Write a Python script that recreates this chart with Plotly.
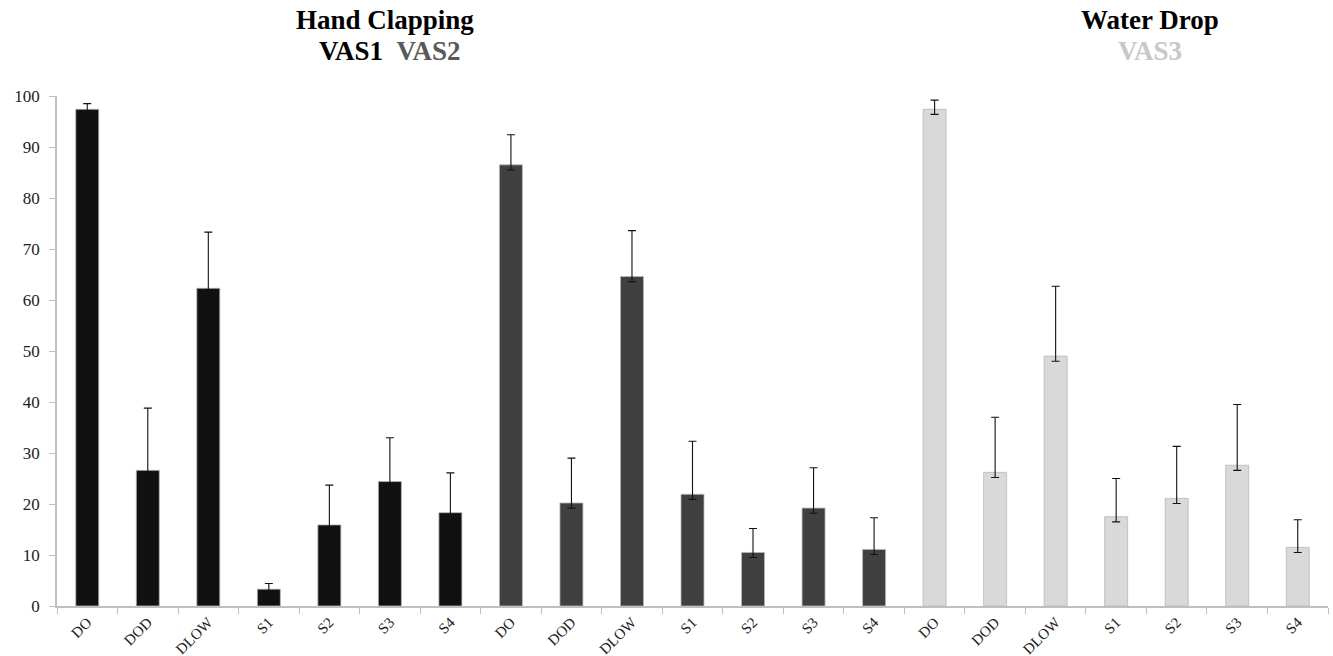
import plotly.graph_objects as go

# Conditions shown on the x axis (repeated for each VAS block)
conditions = ["DO", "DOD", "DLOW", "S1", "S2", "S3", "S4"]

# Mean scores per condition
vas1_mean = [97.4, 26.6, 62.3, 3.3, 15.9, 24.4, 18.3]
vas2_mean = [86.5, 20.2, 64.6, 21.9, 10.5, 19.2, 11.1]
vas3_mean = [97.4, 26.2, 49.0, 17.5, 21.1, 27.6, 11.5]

# Upper error (to the cap above each bar)
vas1_err_up = [1.1, 12.2, 11.0, 1.1, 7.8, 8.6, 7.8]
vas2_err_up = [5.9, 8.8, 9.0, 10.4, 4.7, 7.9, 6.2]
vas3_err_up = [1.8, 10.8, 13.7, 7.5, 10.2, 11.9, 5.4]

# Lower error (short whisker just under the bar top)
vas1_err_down = [1.0, 1.0, 1.0, 1.0, 1.0, 1.0, 1.0]
vas2_err_down = [1.0, 1.0, 1.0, 1.0, 1.0, 1.0, 1.0]
vas3_err_down = [1.0, 1.0, 1.0, 1.0, 1.0, 1.0, 1.0]

series = [
    ("VAS1", vas1_mean, vas1_err_up, vas1_err_down, "#111111"),
    ("VAS2", vas2_mean, vas2_err_up, vas2_err_down, "#404040"),
    ("VAS3", vas3_mean, vas3_err_up, vas3_err_down, "#d9d9d9"),
]

SERIF = "Liberation Serif, Times New Roman, serif"

fig = go.Figure()
all_keys, all_labels = [], []
for name, means, up, down, color in series:
    keys = [f"{name}-{c}" for c in conditions]
    all_keys += keys
    all_labels += conditions
    fig.add_trace(go.Bar(
        x=keys, y=means, name=name,
        width=0.38,
        marker=dict(color=color, line=dict(color="#b8b8b8", width=0.8)),
        error_y=dict(type="data", symmetric=False, array=up, arrayminus=down,
                     color="#111111", thickness=1.1, width=4),
        showlegend=False,
    ))

fig.update_layout(
    width=1333, height=656,
    margin=dict(l=57, r=5, t=96, b=50),
    plot_bgcolor="white", paper_bgcolor="white",
    barmode="overlay",
    font=dict(family=SERIF, color="#222222"),
)

fig.update_xaxes(
    type="category", automargin=False,
    categoryorder="array", categoryarray=all_keys,
    tickmode="array", tickvals=all_keys, ticktext=all_labels,
    tickangle=-45, tickfont=dict(family=SERIF, size=15, color="#222222"),
    tickson="boundaries", ticks="outside", ticklen=6, tickcolor="#bfbfbf",
    showline=True, linecolor="#bfbfbf", linewidth=1.5,
    showgrid=False, zeroline=False,
)
fig.update_yaxes(
    range=[0, 100], tick0=0, dtick=10, automargin=False,
    tickfont=dict(family=SERIF, size=17, color="#222222"),
    ticks="outside", ticklen=6, tickcolor="#bfbfbf", ticklabelstandoff=6,
    showline=True, linecolor="#bfbfbf", linewidth=1.5,
    showgrid=False, zeroline=False,
)

title_font = dict(family=SERIF, size=27, color="#000000")
annotations = [
    dict(text="<b>Hand Clapping</b>", x=385, y=20),
    dict(text="<b>VAS1</b>  <b><span style='color:#595959'>VAS2</span></b>", x=390, y=51),
    dict(text="<b>Water Drop</b>", x=1150, y=20),
    dict(text="<b>VAS3</b>", x=1150, y=51, color="#c8c8c8"),
]
for a in annotations:
    fig.add_annotation(
        text=a["text"], xref="paper", yref="paper",
        x=(a["x"] - 57) / (1333 - 57 - 5), y=1 + (96 - a["y"]) / (656 - 96 - 50),
        xanchor="center", yanchor="middle", showarrow=False,
        font=dict(title_font, color=a.get("color", "#000000")),
    )

fig.write_html("out.html")
